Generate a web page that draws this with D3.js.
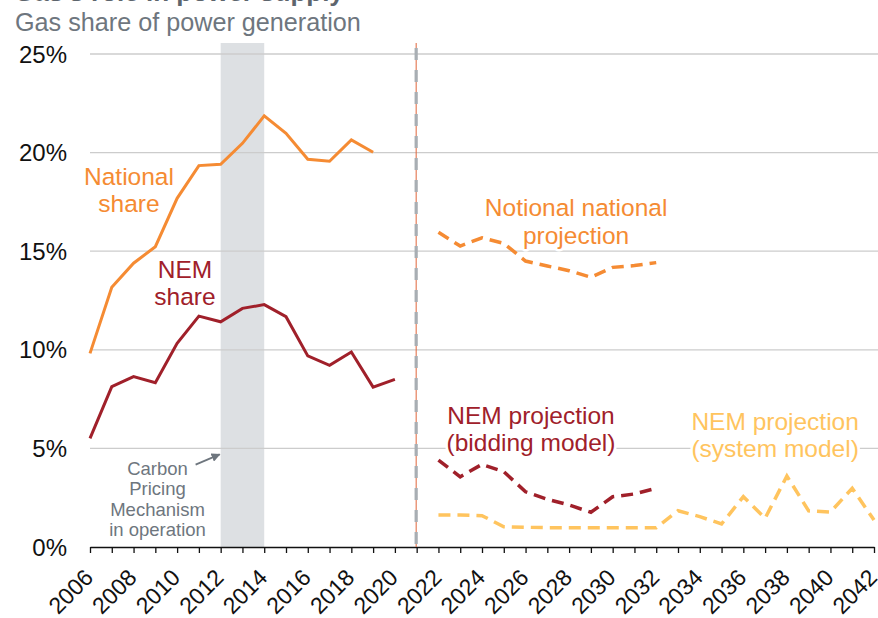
<!DOCTYPE html>
<html>
<head>
<meta charset="utf-8">
<script src="https://cdn.jsdelivr.net/npm/d3@7"></script>
<style>
    body { margin: 0; background: #fff; }
    svg { font-family: "Liberation Sans", Arial, sans-serif; display: block; }
    .grid line { stroke: #cccccc; stroke-width: 1.3; }
    .label { paint-order: stroke; stroke: #fff; stroke-width: 5; stroke-linejoin: round; }
</style>
</head>
<body>
<div id="chart"></div>
<script>
// years
var histYears = d3.range(2006, 2021);
var projYears = d3.range(2022, 2033);
var sysYears = d3.range(2022, 2043);

// gas share of generation, per cent
var nationalShare = [9.82, 13.17, 14.39, 15.23, 17.68, 19.34, 19.41, 20.47, 21.86, 20.98, 19.66, 19.56, 20.64, 20.02];
var nemShare = [5.51, 8.13, 8.64, 8.33, 10.33, 11.71, 11.42, 12.10, 12.29, 11.68, 9.69, 9.21, 9.89, 8.11, 8.50];
var notionalNational = [15.96, 15.26, 15.68, 15.40, 14.50, 14.25, 14.01, 13.68, 14.18, 14.27, 14.42];
var nemBidding = [4.41, 3.56, 4.19, 3.82, 2.80, 2.42, 2.13, 1.76, 2.55, 2.69, 2.98];
var nemSystem = [1.62, 1.62, 1.59, 1.03, 1.00, 0.98, 0.98, 0.98, 0.98, 0.98, 0.98,
    1.84, 1.54, 1.17, 2.55, 1.46, 3.60, 1.83, 1.77, 2.98, 1.37];

var yTicks = [0, 5, 10, 15, 20, 25];
var xTicks = d3.range(2006, 2043);
var xLabels = d3.range(2006, 2043, 2);

function pairs(years, values) {
    return values.map(function(v, i) {
        return { year: years[i], value: v };
    });
}

function drawChart() {
    var w = 878;
    var h = 618;

    var xScale = d3.scaleLinear().domain([2006, 2042]).range([90, 874]);
    var yScale = d3.scaleLinear().domain([0, 25]).range([547, 54]);

    var line = d3
        .line()
        .x(function(d) { return xScale(d.year); })
        .y(function(d) { return yScale(d.value); });

    var svg = d3.select("#chart").append("svg").attr("width", w).attr("height", h);

    // title sits mostly above the frame, only its bottom shows
    svg.append("text")
        .attr("x", 14)
        .attr("y", 1)
        .attr("font-size", 26)
        .attr("font-weight", "bold")
        .attr("fill", "#5d656d")
        .text("Gas's role in power supply");

    svg.append("text")
        .attr("x", 15)
        .attr("y", 31)
        .attr("font-size", 25.2)
        .attr("fill", "#6e767e")
        .text("Gas share of power generation");

    // carbon pricing band
    svg.append("rect")
        .attr("x", xScale(2012))
        .attr("y", 43)
        .attr("width", xScale(2014) - xScale(2012))
        .attr("height", yScale(0) - 43)
        .attr("fill", "#dde0e3");

    // gridlines
    svg.append("g")
        .attr("class", "grid")
        .selectAll("line")
        .data(yTicks.slice(1))
        .enter()
        .append("line")
        .attr("x1", xScale(2006))
        .attr("x2", w)
        .attr("y1", function(d) { return yScale(d); })
        .attr("y2", function(d) { return yScale(d); });

    // y labels
    svg.append("g")
        .selectAll("text")
        .data(yTicks)
        .enter()
        .append("text")
        .attr("x", 67)
        .attr("y", function(d) { return yScale(d) + 8.5; })
        .attr("text-anchor", "end")
        .attr("font-size", 24)
        .attr("fill", "#111")
        .text(function(d) { return d + "%"; });

    // x axis
    var xAxis = d3.axisBottom(xScale)
        .tickValues(xTicks)
        .tickSize(6)
        .tickSizeOuter(0)
        .tickFormat(function(d) { return xLabels.indexOf(d) >= 0 ? d : ""; });

    var gx = svg.append("g")
        .attr("transform", "translate(0," + yScale(0) + ")")
        .call(xAxis);
    gx.select(".domain").attr("stroke", "#111").attr("stroke-width", 1.3);
    gx.selectAll(".tick line").attr("stroke", "#111").attr("stroke-width", 1.3);
    gx.selectAll(".tick text")
        .attr("font-family", "Liberation Sans, Arial, sans-serif")
        .attr("font-size", 23)
        .attr("fill", "#111")
        .attr("text-anchor", "end")
        .attr("dy", null)
        .attr("y", 0)
        .attr("transform", "translate(4,32) rotate(-45)");

    // divider between history and projections
    var xDiv = xScale(2021) - 0.5;
    svg.append("line")
        .attr("x1", xDiv).attr("x2", xDiv)
        .attr("y1", 43).attr("y2", yScale(0))
        .attr("stroke", "#e0643a")
        .attr("stroke-width", 1);
    svg.append("line")
        .attr("x1", xDiv).attr("x2", xDiv)
        .attr("y1", 48).attr("y2", yScale(0))
        .attr("stroke", "#a8aeb3")
        .attr("stroke-width", 3.2)
        .attr("stroke-dasharray", "12,10");

    // history lines
    svg.append("path").datum(pairs(histYears, nationalShare))
        .attr("d", line).attr("fill", "none")
        .attr("stroke", "#f58b33").attr("stroke-width", 3);
    svg.append("path").datum(pairs(histYears, nemShare))
        .attr("d", line).attr("fill", "none")
        .attr("stroke", "#a0202a").attr("stroke-width", 3);

    // projections
    svg.append("path").datum(pairs(projYears, notionalNational))
        .attr("d", line).attr("fill", "none")
        .attr("stroke", "#f58b33").attr("stroke-width", 3.5)
        .attr("stroke-dasharray", "12,7");
    svg.append("path").datum(pairs(sysYears, nemSystem))
        .attr("d", line).attr("fill", "none")
        .attr("stroke", "#ffc45e").attr("stroke-width", 3.5)
        .attr("stroke-dasharray", "12,7");
    svg.append("path").datum(pairs(projYears, nemBidding))
        .attr("d", line).attr("fill", "none")
        .attr("stroke", "#a0202a").attr("stroke-width", 3.5)
        .attr("stroke-dasharray", "12,7");

    // series labels, optionally on a white box
    function label(lines, cx, y0, color, size, gap, boxed) {
        var g = svg.append("g");
        var t = g.append("text")
            .attr("class", boxed ? null : "label")
            .attr("text-anchor", "middle")
            .attr("font-size", size)
            .attr("fill", color);
        lines.forEach(function(s, i) {
            t.append("tspan").attr("x", cx).attr("y", y0 + i * gap).text(s);
        });
        if (boxed) {
            var b = t.node().getBBox();
            g.insert("rect", "text")
                .attr("x", b.x - 1).attr("y", b.y)
                .attr("width", b.width + 2).attr("height", b.height)
                .attr("fill", "#fff");
        }
    }

    label(["National", "share"], xScale(2007.79), 185, "#f58b33", 24.5, 27);
    label(["NEM", "share"], xScale(2010.36), 278, "#a0202a", 24.5, 27);
    label(["Notional national", "projection"], xScale(2028.32), 216, "#f58b33", 24.5, 28);
    label(["NEM projection", "(bidding model)"], xScale(2026.25), 424, "#a0202a", 24.5, 27, true);
    label(["NEM projection", "(system model)"], xScale(2037.46), 430, "#ffc45e", 24.5, 27, true);
    label(["Carbon", "Pricing", "Mechanism", "in operation"], xScale(2009.1), 475, "#6e767e", 18.5, 20.3);

    // arrow to the band
    svg.append("defs").append("marker")
        .attr("id", "arr")
        .attr("viewBox", "0 0 10 10")
        .attr("refX", 9).attr("refY", 5)
        .attr("markerWidth", 5).attr("markerHeight", 5)
        .attr("orient", "auto")
        .append("path")
        .attr("d", "M0,0L10,5L0,10z")
        .attr("fill", "#6e767e");

    svg.append("line")
        .attr("x1", xScale(2010.85)).attr("y1", yScale(4.18))
        .attr("x2", xScale(2012) - 1).attr("y2", yScale(4.7))
        .attr("stroke", "#6e767e")
        .attr("stroke-width", 1.8)
        .attr("marker-end", "url(#arr)");
}

window.onload = drawChart;
</script>
</body>
</html>
